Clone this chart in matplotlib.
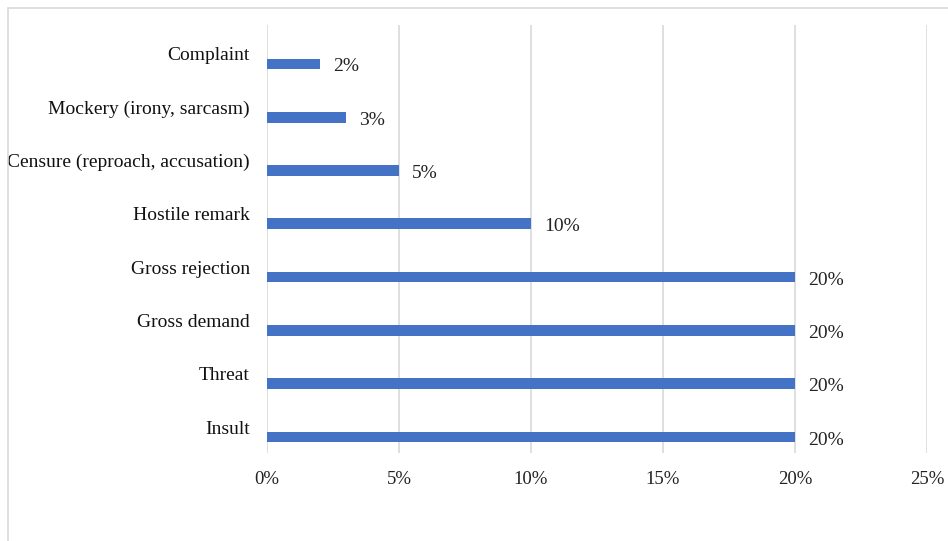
import matplotlib.pyplot as plt
import matplotlib.transforms as mtransforms
from matplotlib.patches import Rectangle

categories = ["Insult", "Threat", "Gross demand", "Gross rejection",
              "Hostile remark", "Censure (reproach, accusation)",
              "Mockery (irony, sarcasm)", "Complaint"]
values = [20, 20, 20, 20, 10, 5, 3, 2]
xticks = [0, 5, 10, 15, 20, 25]

plt.rcParams['font.family'] = ['Liberation Serif', 'DejaVu Serif']

fig = plt.figure(figsize=(9.48, 5.41), dpi=100)
# outer chart border (cut off on right and bottom)
fig.patches.append(Rectangle((8/948, -0.1), 1.2, 1 - 8/541 + 0.1, transform=fig.transFigure,
                             fill=False, edgecolor='#d9d9d9', linewidth=1.2))

ax = fig.add_axes([267/948, 1 - 453/541, (927 - 267)/948, (453 - 25)/541])
ypos = list(range(len(categories)))
ax.barh(ypos, values, height=0.2, color='#4472C4', zorder=3)

ax.set_xlim(0, 25)
ax.set_ylim(-0.3, 7.73)
ax.set_xticks(xticks)
ax.set_xticklabels([f"{t}%" for t in xticks], fontsize=13.5, color='#222222')
ax.tick_params(axis='x', length=0, pad=13)
ax.set_yticks([])
ax.grid(axis='x', color='#d9d9d9', linewidth=1.2, zorder=0)
for s in ax.spines.values():
    s.set_visible(False)

lab_tr = mtransforms.blended_transform_factory(ax.transAxes, ax.transData)
lab_tr = lab_tr + mtransforms.ScaledTranslation(-17/100, 8/100, fig.dpi_scale_trans)
for y, name in zip(ypos, categories):
    ax.text(0, y, name, transform=lab_tr, ha='right', va='center',
            fontsize=14, color='#111111')

val_tr = ax.transData + mtransforms.ScaledTranslation(13/100, -3/100, fig.dpi_scale_trans)
for y, v in zip(ypos, values):
    ax.text(v, y, f"{v}%", transform=val_tr, ha='left', va='center',
            fontsize=14, color='#222222')

fig.savefig("out.png", dpi=100)
